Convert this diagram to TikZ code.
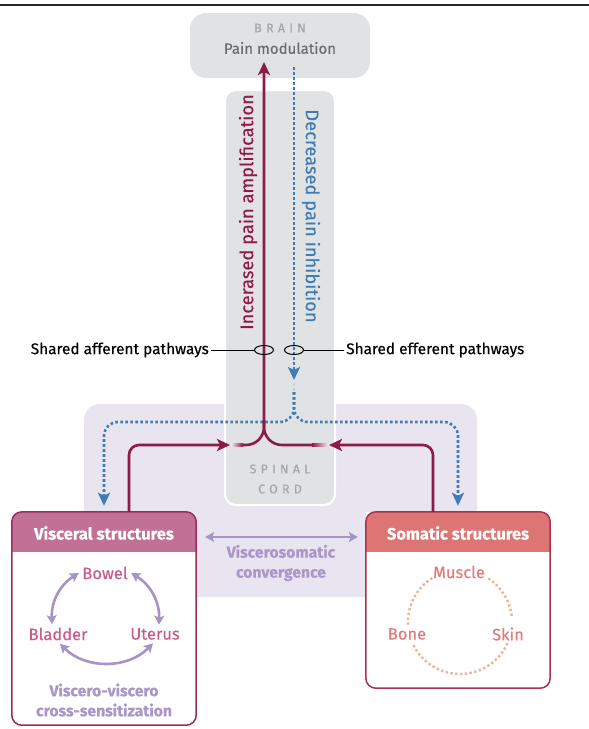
\documentclass[tikz,border=0pt]{standalone}
\usepackage{fontspec}
\setmainfont{Fira Sans}[FakeBold=0.35]
\usetikzlibrary{arrows.meta, positioning, shapes.geometric}

\definecolor{afferent}{HTML}{8E1A46}
\definecolor{efferent}{HTML}{3D7DB4}
\definecolor{lavarrow}{HTML}{A793C6}
\definecolor{lavtext}{HTML}{AA96C9}
\definecolor{convbg}{HTML}{E8E4F0}
\definecolor{cordgray}{HTML}{E1E2E4}
\definecolor{braintext}{HTML}{6B6C6E}
\definecolor{capsgray}{HTML}{A5A6A8}
\definecolor{vischeadc}{HTML}{C27196}
\definecolor{viscborder}{HTML}{9D2C5C}
\definecolor{viscitem}{HTML}{C95C8C}
\definecolor{somheadc}{HTML}{DE7575}
\definecolor{somborder}{HTML}{A8324F}
\definecolor{somitem}{HTML}{E27B7B}
\definecolor{ringpeach}{HTML}{ECB591}

\tikzset{
  graybox/.style={fill=cordgray, inner sep=0pt},
  capslabel/.style={color=capsgray, font=\fontsize{12.5}{13}\selectfont\addfontfeature{LetterSpace=34}},
  structbox/.style={fill=white, minimum width=184pt, inner sep=0pt},
  headtext/.style={color=white, font=\fontsize{16.5}{19}\selectfont\bfseries},
  visitem/.style={color=viscitem, font=\fontsize{16.5}{18}\selectfont},
  somitemlbl/.style={color=somitem, font=\fontsize{16.5}{18}\selectfont},
  lavtxt/.style={color=lavtext, align=center, font=\fontsize{15.7}{20}\selectfont\bfseries},
  lavarr/.style={draw=lavarrow, line width=2.6pt, {Stealth[length=9pt, width=10pt, inset=2pt]}-{Stealth[length=9pt, width=10pt, inset=2pt]}},
  affline/.style={draw=afferent, line width=2.6pt},
  effline/.style={draw=efferent, line width=2.6pt, dash pattern=on 2.6pt off 2.4pt},
  ring/.style={ellipse, draw=black, line width=1pt, minimum width=19pt, minimum height=9pt, inner sep=0pt},
  sidelabel/.style={font=\fontsize{15.4}{17}\selectfont, inner sep=2pt},
  dotring/.style={draw=ringpeach, line width=2.4pt, dash pattern=on 2.4pt off 2.4pt}
}

\begin{document}
\begin{tikzpicture}[x=1pt, y=-1pt, >={Stealth[length=13pt, width=12pt, inset=3pt]}]
\useasboundingbox (0,0) rectangle (589,729);

% top rule
\draw[line width=1.2pt, black!85] (0,5) -- (589,5);

% convergence zone
\fill[convbg, rounded corners=16pt] (84,404) rectangle (477,597);

% brain and spinal cord
\node[graybox, minimum width=110pt, minimum height=415pt, rounded corners=11pt, draw=white, line width=2pt] (cord) at (280,297.5) {};
\node[graybox, minimum width=180pt, minimum height=65pt, rounded corners=16pt] (brain) at (280,45.5) {};
\node[capslabel] (brainlbl) at (280,28) {BRAIN};
\node[color=braintext, font=\fontsize{15}{17}\selectfont] (modlbl) at (280,48) {Pain modulation};
\node[capslabel] (spinallbl) at (280,469) {SPINAL};
\node[capslabel] (cordlbl) at (280,489) {CORD};

% visceral box
\node[structbox, minimum height=213pt] (visc) at (104,618.5) {};
\begin{scope}
  \clip[rounded corners=10pt] (visc.north west) rectangle (visc.south east);
  \fill[vischeadc] (visc.north west) rectangle ([shift={(0,40)}]visc.north east);
\end{scope}
\draw[viscborder, line width=1.5pt, rounded corners=10pt] (visc.north west) rectangle (visc.south east);
\node[headtext] (vischead) at (104,533) {Visceral structures};

% somatic box
\node[structbox, minimum height=176pt] (soma) at (458,600) {};
\begin{scope}
  \clip[rounded corners=10pt] (soma.north west) rectangle (soma.south east);
  \fill[somheadc] (soma.north west) rectangle ([shift={(0,40)}]soma.north east);
\end{scope}
\draw[somborder, line width=1.5pt, rounded corners=10pt] (soma.north west) rectangle (soma.south east);
\node[headtext] (somhead) at (458,533) {Somatic structures};

% visceral items
\node[visitem] (bowel) at (105,573) {Bowel};
\node[visitem] (bladder) at (58,634) {Bladder};
\node[visitem] (uterus) at (155,634) {Uterus};
\draw[lavarr] (bowel.west) to[bend right=30] ([xshift=-6pt]bladder.north);
\draw[lavarr] (bowel.east) to[bend left=30] ([xshift=4pt]uterus.north);
\draw[lavarr] ([xshift=2pt]bladder.south) to[bend right=45] ([xshift=-2pt]uterus.south);
\node[lavtxt] (vvlbl) at (104,700) {Viscero-viscero\\cross-sensitization};

% somatic items
\node[somitemlbl] (muscle) at (459,572) {Muscle};
\node[somitemlbl] (bone) at (407,634) {Bone};
\node[somitemlbl] (skin) at (508,634) {Skin};
\coordinate (ringc) at (460,622);
\draw[dotring] (ringc) ++(-57:52) arc[start angle=-57, end angle=-5, radius=52];
\draw[dotring] (ringc) ++(24:52) arc[start angle=24, end angle=155, radius=52];
\draw[dotring] (ringc) ++(-183:52) arc[start angle=-183, end angle=-122, radius=52];

% viscerosomatic convergence
\coordinate (vsrow) at (0,537);
\draw[lavarr, shorten <=9pt, shorten >=8pt] (visc.east |- vsrow) -- (soma.west |- vsrow);
\node[lavtxt] (vslbl) at (281,563) {Viscerosomatic\\convergence};

% efferent (descending) pathway
\coordinate (efftop) at (294,67);
\coordinate (efftip) at (294,380);
\coordinate (effsplit) at (294,392);
\coordinate (effjunc) at (294,422);
\draw[effline, ->] (efftop) -- (efftip);
\draw[effline, draw=efferent!35] (294,383) -- (effsplit);
\draw[effline, ->, rounded corners=14pt, shorten >=6pt] (effsplit) -- (effjunc) -| (visc.north);
\draw[effline, ->, rounded corners=14pt, shorten >=6pt] (effsplit) -- (effjunc) -| (soma.north);

% afferent (ascending) pathway
\coordinate (amptip) at (264,62);
\coordinate (affjunc) at (264,445);
\coordinate (affleft) at (242,445);
\coordinate (affright) at (313,445);
\coordinate (lefttip) at (230,445);
\coordinate (righttip) at (329,445);
\draw[affline, ->, rounded corners=18pt] (affleft) -- (affjunc) -- (amptip);
\draw[affline, rounded corners=18pt] (affright) -- (affjunc) -- (264,420);
\shade[left color=afferent!10, right color=afferent] (231,443.7) rectangle (243,446.3);
\shade[left color=afferent, right color=afferent!10] (312,443.7) rectangle (328,446.3);
\draw[affline, ->, rounded corners=10pt] ([xshift=25pt]visc.north) |- (lefttip);
\draw[affline, ->, rounded corners=10pt] ([xshift=-25pt]soma.north) |- (righttip);

% pathway labels
\node[rotate=90, color=afferent, font=\fontsize{18.3}{20}\selectfont] (amplbl) at (248,212) {Incerased pain amplification};
\node[rotate=-90, color=efferent, font=\fontsize{18.3}{20}\selectfont] (inhlbl) at (311,216) {Decreased pain inhibition};

% shared pathways
\node[ring] (ringaff) at (264,350) {};
\node[ring] (ringeff) at (294,350) {};
\node[sidelabel, left=43pt of ringaff] (afflbl) {Shared afferent pathways};
\node[sidelabel, right=40pt of ringeff] (efflbl) {Shared efferent pathways};
\draw[line width=1pt] (afflbl) -- (ringaff);
\draw[line width=1pt] (efflbl) -- (ringeff);

\end{tikzpicture}
\end{document}
